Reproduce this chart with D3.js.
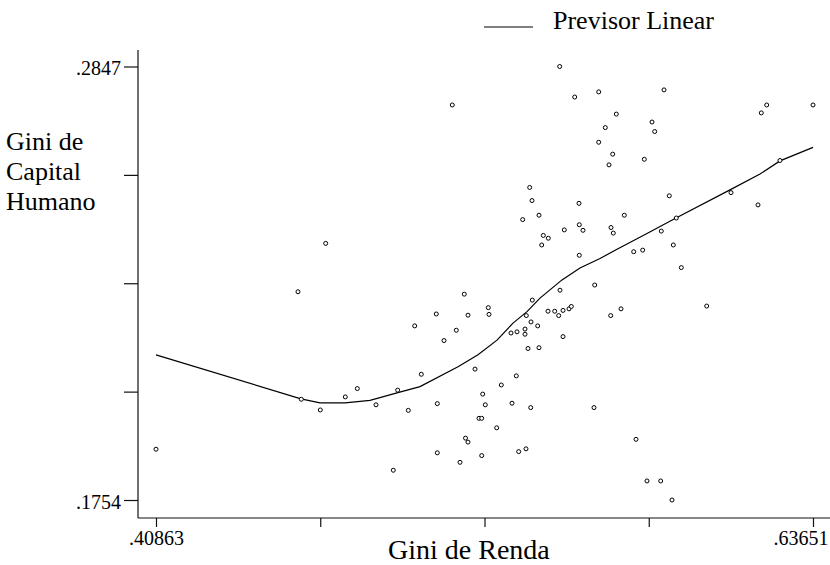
<!DOCTYPE html>
<html>
<head>
<meta charset="utf-8">
<script src="https://cdn.jsdelivr.net/npm/d3@7"></script>
<style>
  html, body { margin: 0; padding: 0; background: #fff; }
  svg { display: block; }
  text { font-family: "Liberation Serif", "Times New Roman", serif; fill: #000; }
</style>
</head>
<body>
<svg id="chart" width="830" height="565"></svg>
<script>
// ---- Data ----
const giniRenda = [
  .54865,.5114,.55386,.56218,.56447,.56218,.56575,.58483,.56829,.58067,
  .5816,.56704,.578,.62045,.61858,.63651,.62506,.58667,.60807,.61743,
  .57106,.56645,.56724,.5891,.58389,.58806,.57432,.57744,.59083,.59964,
  .56992,.56634,.57512,.57893,.58368,.5876,.40863,.46749,.45788,.45903,
  .46562,.47429,.47845,.53825,.53905,.55535,.54147,.53582,.55545,.55673,
  .55025,.54297,.5447,.54241,.55545,.56079,.54876,.53915,.51556,.52389,
  .52413,.51685,.50585,.49836,.51279,.50852,.53707,.5387,.54102,.53662,
  .53662,.53384,.53176,.5446,.54692,.54831,.5498,.55188,.55268,.5498,
  .53766,.54147,.51928,.50065,.49246,.48494,.49614,.5062,.5336,.5284,
  .52195,.52285,.53211,.5386,.56055,.52066,.5216,.5268,.51598,.51685,
  .5062,.49094,.51407,.5216,.53443,.53696
];
const giniCapital = [
  .2847,.2750,.2770,.2783,.2693,.2656,.2599,.2788,.2727,.2707,
  .2683,.2626,.2613,.2750,.2730,.2750,.2610,.2521,.2529,.2498,
  .2472,.2441,.2427,.2465,.2432,.2397,.2380,.2384,.2340,.2243,
  .2236,.2219,.1907,.1802,.1802,.1754,.1882,.2401,.2279,.2008,
  .1981,.2014,.2035,.2542,.2509,.2502,.2472,.2461,.2448,.2434,
  .2435,.2421,.2414,.2397,.2371,.2296,.2283,.2258,.2273,.2239,
  .2222,.2220,.2223,.2193,.2182,.2156,.2219,.2203,.2193,.2185,
  .2172,.2178,.2175,.2230,.2230,.2219,.2232,.2236,.2242,.2166,
  .2136,.2138,.2084,.2071,.2031,.1994,.1980,.1997,.2067,.2044,
  .2021,.1994,.1998,.1987,.1987,.1960,.1960,.1936,.1910,.1900,
  .1873,.1829,.1849,.1866,.1876,.1883
];
const previsorX = [
  .40863,.45892,.46551,.47418,.48286,.49222,.5002,.51338,.52032,.52691,
  .53246,.53731,.54182,.54945,.55569,.56263,.56853,.57893,.58899,.60772,
  .61813,.62506,.63651
];
const previsorY = [
  .2120,.2009,.1999,.1999,.2005,.2024,.2040,.2090,.2120,.2157,
  .2200,.2229,.2263,.2309,.2339,.2363,.2386,.2426,.2465,.2536,
  .2576,.2609,.2643
];
const xTicks = [.40863, .46560, .52257, .57954, .63651];
const xTickLabels = [".40863", "", "", "", ".63651"];
const yTicks = [.1754, .202725, .23005, .257375, .2847];
const yTickLabels = [".1754", "", "", "", ".2847"];
const xTitle = "Gini de Renda";
const yTitleLines = ["Gini de", "Capital", "Humano"];
const legendLabel = "Previsor Linear";

// ---- Drawing ----
const svg = d3.select("#chart");
const x = d3.scaleLinear().domain([xTicks[0], xTicks[4]]).range([156, 813]);
const y = d3.scaleLinear().domain([yTicks[0], yTicks[4]]).range([500, 66.5]);
const axisX = 518, axisY = 138;

// axes lines
svg.append("line").attr("x1", axisY).attr("x2", axisY).attr("y1", 50).attr("y2", axisX)
  .attr("stroke", "#111").attr("stroke-width", 1.2);
svg.append("line").attr("x1", axisY).attr("x2", 830).attr("y1", axisX).attr("y2", axisX)
  .attr("stroke", "#111").attr("stroke-width", 1.2);

// y axis ticks
const gy = svg.append("g").attr("transform", `translate(${axisY},0)`)
  .call(d3.axisLeft(y).tickValues(yTicks).tickSize(14).tickPadding(3)
    .tickFormat((d, i) => yTickLabels[i]));
gy.select(".domain").remove();
gy.selectAll(".tick line").attr("stroke", "#111").attr("stroke-width", 1.2);
gy.selectAll(".tick text").style("font-family", '"Liberation Serif", serif')
  .style("font-size", "20px").attr("fill", "#000").attr("dy", "0.42em");

// x axis ticks
const gx = svg.append("g").attr("transform", `translate(0,${axisX})`)
  .call(d3.axisBottom(x).tickValues(xTicks).tickSize(9).tickPadding(4)
    .tickFormat((d, i) => xTickLabels[i]));
gx.select(".domain").remove();
gx.selectAll(".tick line").attr("stroke", "#111").attr("stroke-width", 1.2);
gx.selectAll(".tick text").style("font-family", '"Liberation Serif", serif')
  .style("font-size", "20px").attr("fill", "#000");
// keep the last label inside the picture
gx.selectAll(".tick text").filter((d, i) => i === xTicks.length - 1)
  .attr("text-anchor", "end").attr("x", 828 - x(xTicks[4]));

// titles
svg.append("text").attr("x", 388).attr("y", 559).attr("text-anchor", "start")
  .style("font-size", "28px").text(xTitle);
const yt = svg.append("text").style("font-size", "26px");
yTitleLines.forEach((t, i) => {
  yt.append("tspan").attr("x", 6).attr("y", 150 + i * 30).text(t);
});

// legend
svg.append("line").attr("x1", 484).attr("x2", 533).attr("y1", 27).attr("y2", 27)
  .attr("stroke", "#000").attr("stroke-width", 1.2);
svg.append("text").attr("x", 553).attr("y", 29).style("font-size", "26px").text(legendLabel);

// fitted line
const line = d3.line().x(d => x(d[0])).y(d => y(d[1]));
svg.append("path").datum(previsorX.map((v, i) => [v, previsorY[i]]))
  .attr("d", line).attr("fill", "none").attr("stroke", "#000").attr("stroke-width", 1.2);

// scatter points
svg.append("g").selectAll("circle")
  .data(giniRenda.map((v, i) => [v, giniCapital[i]]))
  .join("circle")
  .attr("cx", d => x(d[0])).attr("cy", d => y(d[1])).attr("r", 2)
  .attr("fill", "#fff").attr("stroke", "#000").attr("stroke-width", 1);
</script>
</body>
</html>
